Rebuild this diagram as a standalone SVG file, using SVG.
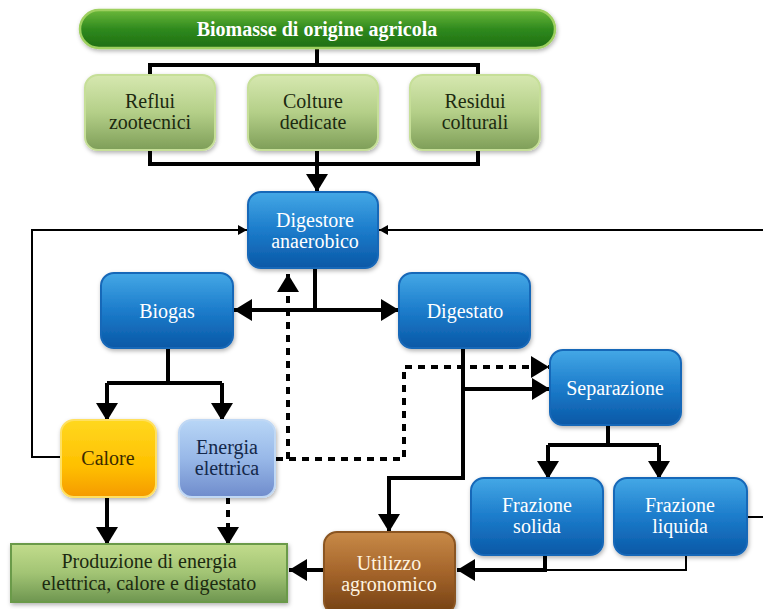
<svg xmlns="http://www.w3.org/2000/svg" width="763" height="609" viewBox="0 0 763 609">
<defs>
<linearGradient id="gBanner" x1="0" y1="0" x2="0" y2="1"><stop offset="0" stop-color="#6cb83a"/><stop offset="0.5" stop-color="#2f8a1e"/><stop offset="1" stop-color="#1f6e12"/></linearGradient>
<linearGradient id="gLight" x1="0" y1="0" x2="0" y2="1"><stop offset="0" stop-color="#d6e8b0"/><stop offset="0.5" stop-color="#b4cf88"/><stop offset="1" stop-color="#7e9e58"/></linearGradient>
<linearGradient id="gBlue" x1="0" y1="0" x2="0" y2="1"><stop offset="0" stop-color="#44a8e6"/><stop offset="0.5" stop-color="#1c7ccb"/><stop offset="1" stop-color="#0a58a6"/></linearGradient>
<linearGradient id="gYellow" x1="0" y1="0" x2="0" y2="1"><stop offset="0" stop-color="#ffd820"/><stop offset="0.6" stop-color="#ffc000"/><stop offset="1" stop-color="#f59a00"/></linearGradient>
<linearGradient id="gLblue" x1="0" y1="0" x2="0" y2="1"><stop offset="0" stop-color="#b8d6f6"/><stop offset="0.5" stop-color="#98b8e8"/><stop offset="1" stop-color="#6f8ccc"/></linearGradient>
<linearGradient id="gProd" x1="0" y1="0" x2="0" y2="1"><stop offset="0" stop-color="#c2dc8c"/><stop offset="0.5" stop-color="#a2c474"/><stop offset="1" stop-color="#6e9650"/></linearGradient>
<linearGradient id="gBrown" x1="0" y1="0" x2="0" y2="1"><stop offset="0" stop-color="#c88a48"/><stop offset="0.5" stop-color="#a4642a"/><stop offset="1" stop-color="#734014"/></linearGradient>
<filter id="sh" x="-20%" y="-20%" width="140%" height="140%"><feDropShadow dx="1" dy="2" stdDeviation="2" flood-color="#000" flood-opacity="0.3"/></filter>
<marker id="ah" markerUnits="userSpaceOnUse" markerWidth="20" markerHeight="22" refX="18" refY="11" orient="auto"><path d="M0,0 L18,11 L0,22 Z" fill="#000"/></marker>
<marker id="as" markerUnits="userSpaceOnUse" markerWidth="10" markerHeight="10" refX="9" refY="5" orient="auto"><path d="M0,0 L9,5 L0,10 Z" fill="#000"/></marker>
</defs>
<style>
text{font-family:'Liberation Serif','DejaVu Serif',serif;font-size:20px;text-anchor:middle}
.w{fill:#ffffff}
.d{fill:#1c2a10}
.c{fill:none;stroke:#000;stroke-width:4}
.th{fill:none;stroke:#000;stroke-width:2}
.ds{fill:none;stroke:#000;stroke-width:4;stroke-dasharray:7 6}
</style>
<rect width="763" height="609" fill="#ffffff"/>
<g id="connectors">
<path class="c" d="M317,48 V65 M150,75 V65 H478 V75"/>
<path class="c" d="M150,150 V164 H478 V150"/>
<path class="c" d="M317,150 V192" marker-end="url(#ah)"/>
<path class="th" d="M60,457 H32 V230 H247" marker-end="url(#as)"/>
<path class="th" d="M763,230 H379" marker-end="url(#as)"/>
<path class="th" d="M747,517 H763"/>
<path class="c" d="M315,268 V310"/>
<path class="c" d="M315,310 H234" marker-end="url(#ah)"/>
<path class="c" d="M315,310 H399" marker-end="url(#ah)"/>
<path class="ds" d="M288,459 V274" marker-end="url(#ah)"/>
<path class="ds" d="M276,459 H404 V367 H549" marker-end="url(#ah)"/>
<path class="c" d="M168,348 V383 M107,383 H222"/>
<path class="c" d="M107,383 V421" marker-end="url(#ah)"/>
<path class="c" d="M222,383 V421" marker-end="url(#ah)"/>
<path class="c" d="M463,348 V478 H389 V532" marker-end="url(#ah)"/>
<path class="c" d="M463,389 H550" marker-end="url(#ah)"/>
<path class="c" d="M608,425 V445 M548,445 H659"/>
<path class="c" d="M548,445 V479" marker-end="url(#ah)"/>
<path class="c" d="M659,445 V479" marker-end="url(#ah)"/>
<path class="th" d="M686,555 V570 H545"/>
<path class="c" d="M545,555 V570 H457" marker-end="url(#ah)"/>
<path class="c" d="M325,570 H289" marker-end="url(#ah)"/>
<path class="c" d="M107,497 V545" marker-end="url(#ah)"/>
<path class="ds" d="M228,497 V545" marker-end="url(#ah)"/>
</g>
<g id="biomasse">
<rect x="80" y="10" width="475" height="38" rx="19" fill="url(#gBanner)" stroke="#9ed060" stroke-width="2.5" filter="url(#sh)"/>
<text class="w" x="317" y="36" font-weight="bold" font-size="22">Biomasse di origine agricola</text>
</g>
<g id="reflui">
<rect x="85" y="75" width="130" height="75" rx="13" fill="url(#gLight)" stroke="#c6df98" stroke-width="2" filter="url(#sh)"/>
<text class="d" x="150" y="108">Reflui</text><text class="d" x="150" y="129">zootecnici</text>
</g>
<g id="colture">
<rect x="248" y="75" width="130" height="75" rx="13" fill="url(#gLight)" stroke="#c6df98" stroke-width="2" filter="url(#sh)"/>
<text class="d" x="313" y="108">Colture</text><text class="d" x="313" y="129">dedicate</text>
</g>
<g id="residui">
<rect x="410" y="75" width="130" height="75" rx="13" fill="url(#gLight)" stroke="#c6df98" stroke-width="2" filter="url(#sh)"/>
<text class="d" x="475" y="108">Residui</text><text class="d" x="475" y="129">colturali</text>
</g>
<g id="digestore">
<rect x="248" y="192" width="130" height="76" rx="13" fill="url(#gBlue)" stroke="#1868b8" stroke-width="2" filter="url(#sh)"/>
<text class="w" x="315" y="227">Digestore</text><text class="w" x="315" y="248">anaerobico</text>
</g>
<g id="biogas">
<rect x="101" y="273" width="132" height="75" rx="13" fill="url(#gBlue)" stroke="#1868b8" stroke-width="2" filter="url(#sh)"/>
<text class="w" x="167" y="318">Biogas</text>
</g>
<g id="digestato">
<rect x="399" y="273" width="131" height="75" rx="13" fill="url(#gBlue)" stroke="#1868b8" stroke-width="2" filter="url(#sh)"/>
<text class="w" x="465" y="318">Digestato</text>
</g>
<g id="separazione">
<rect x="550" y="350" width="131" height="75" rx="13" fill="url(#gBlue)" stroke="#1868b8" stroke-width="2" filter="url(#sh)"/>
<text class="w" x="615" y="395">Separazione</text>
</g>
<g id="calore">
<rect x="61" y="420" width="95" height="77" rx="13" fill="url(#gYellow)" stroke="#ffe060" stroke-width="2" filter="url(#sh)"/>
<text x="108" y="465" fill="#3a2a00" font-size="22">Calore</text>
</g>
<g id="energia">
<rect x="179" y="420" width="96" height="77" rx="13" fill="url(#gLblue)" stroke="#c0d8f4" stroke-width="2" filter="url(#sh)"/>
<text x="227" y="454" fill="#14284a">Energia</text><text x="227" y="475" fill="#14284a">elettrica</text>
</g>
<g id="frazione-solida">
<rect x="471" y="478" width="132" height="77" rx="13" fill="url(#gBlue)" stroke="#1868b8" stroke-width="2" filter="url(#sh)"/>
<text class="w" x="537" y="512">Frazione</text><text class="w" x="537" y="533">solida</text>
</g>
<g id="frazione-liquida">
<rect x="614" y="478" width="133" height="77" rx="13" fill="url(#gBlue)" stroke="#1868b8" stroke-width="2" filter="url(#sh)"/>
<text class="w" x="680" y="512">Frazione</text><text class="w" x="680" y="533">liquida</text>
</g>
<g id="produzione">
<rect x="11" y="544" width="276" height="58" fill="url(#gProd)" stroke="#6a9a48" stroke-width="2" filter="url(#sh)"/>
<text class="d" x="149" y="568">Produzione di energia</text><text class="d" x="149" y="590">elettrica, calore e digestato</text>
</g>
<g id="utilizzo">
<rect x="324" y="532" width="131" height="82" rx="13" fill="url(#gBrown)" stroke="#8a5520" stroke-width="2" filter="url(#sh)"/>
<text x="389" y="570" fill="#fff4e0">Utilizzo</text><text x="389" y="591" fill="#fff4e0">agronomico</text>
</g>
</svg>
